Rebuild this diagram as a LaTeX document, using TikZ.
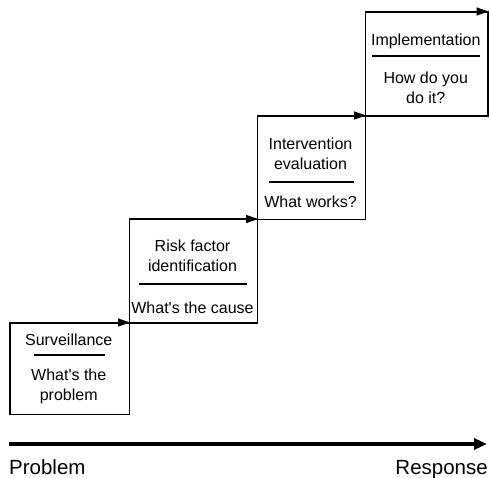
\documentclass[tikz,border=0pt]{standalone}
\usepackage{fontspec}
\setmainfont{Liberation Sans}
\usetikzlibrary{arrows.meta}
\begin{document}
\begin{tikzpicture}[x=1pt,y=-1pt,
  stagebox/.style={draw,line width=1.5pt,inner sep=0pt,anchor=south west},
  toparrow/.style={line width=1.5pt,-{Triangle[length=12pt,width=8pt]}},
  sepline/.style={line width=1.5pt},
  btext/.style={font=\fontsize{16}{20}\selectfont,inner sep=0pt,anchor=base},
  axtext/.style={font=\fontsize{20.5}{24}\selectfont,inner sep=0pt}]
\useasboundingbox (0,0) rectangle (490,478);
% boxes
\node[stagebox,minimum width=119.5pt,minimum height=91pt] (b1) at (9,415) {};
\node[stagebox,minimum width=128pt,minimum height=103.5pt] (b2) at (128.5,324) {};
\node[stagebox,minimum width=108pt,minimum height=103.5pt] (b3) at (256.5,220.5) {};
\node[stagebox,minimum width=122.5pt,minimum height=104pt] (b4) at (364.5,117) {};
\draw[toparrow] (b1.north west) -- (b1.north east);
\draw[toparrow] (b2.north west) -- (b2.north east);
\draw[toparrow] (b3.north west) -- (b3.north east);
\draw[toparrow] (b4.north west) -- (b4.north east);
% box 1
\node[btext] (t1a) at (68.75,345) {Surveillance};
\draw[sepline] (34,355) -- (105,355);
\node[btext] (t1b) at (68.75,380.5) {What\textquotesingle s the};
\node[btext] (t1c) at (68.75,400.5) {problem};
% box 2
\node[btext] (t2a) at (192.5,251.5) {Risk factor};
\node[btext] (t2b) at (192.5,271.5) {identification};
\draw[sepline] (139,284) -- (247,284);
\node[btext] (t2c) at (192.5,313.5) {What\textquotesingle s the cause};
% box 3
\node[btext] (t3a) at (310.5,149.5) {Intervention};
\node[btext] (t3b) at (310.5,169.5) {evaluation};
\draw[sepline] (269,182) -- (354,182);
\node[btext] (t3c) at (310.5,207.5) {What works?};
% box 4
\node[btext] (t4a) at (425.75,45.5) {Implementation};
\draw[sepline] (372,56) -- (480,56);
\node[btext] (t4b) at (425.75,83.5) {How do you};
\node[btext] (t4c) at (425.75,103.5) {do it?};
% axis
\coordinate (axl) at (9,444);
\coordinate (axr) at (487,444);
\draw[line width=4.5pt,-{Triangle[length=13pt,width=11pt]}] (axl) -- (axr);
\node[axtext,anchor=base west] (lp) at (9,474) {Problem};
\node[axtext,anchor=base east] (lr) at (488,474) {Response};
\end{tikzpicture}
\end{document}
